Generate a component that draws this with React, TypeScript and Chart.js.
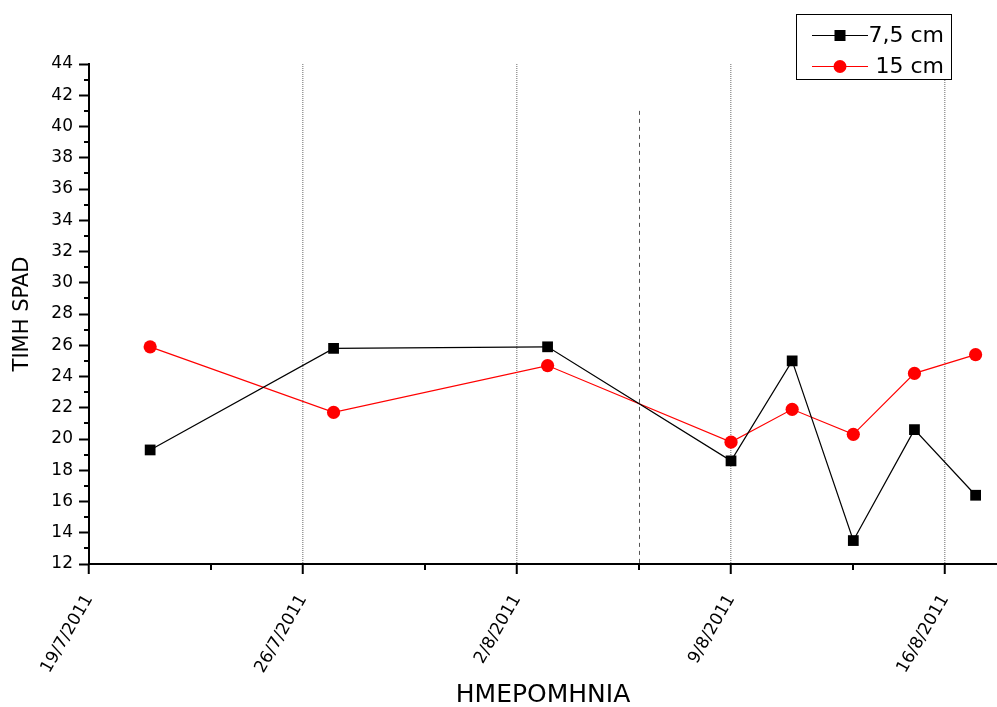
import React, { useEffect, useRef } from 'react';
import { Chart, registerables } from 'chart.js';

Chart.register(...registerables);

// Sampling dates and SPAD readings for the two depths
const DATES = ['21/7/2011', '27/7/2011', '3/8/2011', '9/8/2011', '11/8/2011', '13/8/2011', '15/8/2011', '17/8/2011'];
const SPAD_7_5 = [19.3, 25.8, 25.9, 18.6, 25.0, 13.5, 20.6, 16.4];
const SPAD_15 = [25.9, 21.7, 24.7, 19.8, 21.9, 20.3, 24.2, 25.4];

// Axis setup (x values are days counted from START_DATE)
const START_DATE = '19/7/2011';
const X_MAX_DAY = 29.7;
const MAJOR_X_DAYS = [0, 7, 14, 21, 28];
const MINOR_X_DAYS = [4, 11, 18, 25];
const Y_MIN = 12;
const Y_MAX = 44;
const Y_STEP = 2;

// Dashed reference line
const REF_DAY = 18;
const REF_TOP = 41;

const FONT = 'DejaVu Sans';
const DAY_MS = 86400000;

function parseDate(s: string): number {
  const [d, m, y] = s.split('/').map(Number);
  return Date.UTC(y, m - 1, d);
}
const dayOffset = (s: string) => (parseDate(s) - parseDate(START_DATE)) / DAY_MS;
function formatDay(v: number): string {
  const dt = new Date(parseDate(START_DATE) + v * DAY_MS);
  return `${dt.getUTCDate()}/${dt.getUTCMonth() + 1}/${dt.getUTCFullYear()}`;
}

const extrasPlugin = {
  id: 'extras',
  beforeDatasetsDraw(chart: any) {
    const { ctx, scales: { x, y } } = chart;
    const px = Math.round(x.getPixelForValue(REF_DAY)) + 0.5;
    ctx.save();
    ctx.strokeStyle = '#555';
    ctx.lineWidth = 1;
    ctx.setLineDash([4, 4]);
    ctx.beginPath();
    ctx.moveTo(px, y.getPixelForValue(REF_TOP));
    ctx.lineTo(px, y.getPixelForValue(Y_MIN));
    ctx.stroke();
    ctx.restore();
  },
  afterDraw(chart: any) {
    const { ctx, scales: { x, y } } = chart;
    ctx.save();
    // minor ticks
    ctx.strokeStyle = '#000';
    ctx.lineWidth = 2;
    ctx.beginPath();
    MINOR_X_DAYS.forEach((d) => {
      const px = Math.round(x.getPixelForValue(d));
      ctx.moveTo(px, y.bottom);
      ctx.lineTo(px, y.bottom + 6);
    });
    for (let v = Y_MIN + Y_STEP / 2; v < Y_MAX; v += Y_STEP) {
      const py = Math.round(y.getPixelForValue(v));
      ctx.moveTo(x.left - 5, py);
      ctx.lineTo(x.left, py);
    }
    ctx.stroke();

    // legend
    const bx = 796.5, by = 14.5, bw = 155, bh = 65;
    ctx.fillStyle = '#fff';
    ctx.fillRect(bx, by, bw, bh);
    ctx.strokeStyle = '#000';
    ctx.lineWidth = 1;
    ctx.strokeRect(bx, by, bw, bh);
    chart.data.datasets.forEach((ds: any, i: number) => {
      const ry = 35 + i * 31;
      ctx.strokeStyle = ds.borderColor;
      ctx.lineWidth = 1.2;
      ctx.beginPath();
      ctx.moveTo(812, ry + 0.5);
      ctx.lineTo(868, ry + 0.5);
      ctx.stroke();
      ctx.fillStyle = ds.pointBackgroundColor;
      if (ds.pointStyle === 'rect') {
        ctx.fillRect(840 - 5.5, ry - 5, 11, 11);
      } else {
        ctx.beginPath();
        ctx.arc(840, ry + 0.5, 6.5, 0, Math.PI * 2);
        ctx.fill();
      }
      ctx.fillStyle = '#000';
      ctx.font = `22px "${FONT}"`;
      ctx.textAlign = 'right';
      ctx.textBaseline = 'middle';
      ctx.fillText(ds.label, 944, ry + 1);
    });
    ctx.restore();
  },
};

export default function App() {
  const ref = useRef<HTMLCanvasElement>(null);

  useEffect(() => {
    const xs = DATES.map(dayOffset);
    const chart = new Chart(ref.current as HTMLCanvasElement, {
      type: 'line',
      data: {
        datasets: [
          {
            label: '7,5 cm',
            data: xs.map((x, i) => ({ x, y: SPAD_7_5[i] })),
            borderColor: '#000',
            backgroundColor: '#000',
            pointBackgroundColor: '#000',
            pointBorderColor: '#000',
            pointBorderWidth: 0,
            borderWidth: 1.2,
            pointStyle: 'rect',
            pointRadius: 7.6,
            tension: 0,
          },
          {
            label: '15 cm',
            data: xs.map((x, i) => ({ x, y: SPAD_15[i] })),
            borderColor: '#ff0000',
            backgroundColor: '#ff0000',
            pointBackgroundColor: '#ff0000',
            pointBorderColor: '#ff0000',
            pointBorderWidth: 0,
            borderWidth: 1.2,
            pointStyle: 'circle',
            pointRadius: 6.6,
            tension: 0,
          },
        ],
      },
      options: {
        animation: false,
        responsive: false,
        layout: { padding: { top: 64, left: 0, right: 0, bottom: 0 }, autoPadding: false },
        plugins: { legend: { display: false }, tooltip: { enabled: false } },
        scales: {
          x: {
            type: 'linear',
            min: 0,
            max: X_MAX_DAY,
            afterBuildTicks: (s: any) => {
              s.ticks = MAJOR_X_DAYS.map((v) => ({ value: v }));
            },
            afterFit: (s: any) => {
              s.height = 143;
            },
            ticks: {
              callback: (v: any) => formatDay(Number(v)),
              minRotation: 60,
              maxRotation: 60,
              autoSkip: false,
              padding: 17,
              color: '#000',
              font: { family: FONT, size: 17 },
            },
            grid: {
              drawOnChartArea: true,
              color: (c: any) => (c.tick && c.tick.value === 0 ? 'rgba(0,0,0,0)' : '#9a9a9a'),
              lineWidth: 1.5,
              tickLength: 10,
              tickWidth: 2,
              tickColor: '#000',
            },
            border: { color: '#000', width: 2, dash: [1, 1] },
            title: {
              display: true,
              text: 'ΗΜΕΡΟΜΗΝΙΑ',
              color: '#000',
              font: { family: FONT, size: 25, lineHeight: 1 },
              padding: { top: 0, bottom: -1 },
            },
          },
          y: {
            min: Y_MIN,
            max: Y_MAX,
            afterFit: (s: any) => {
              s.width = 89;
            },
            ticks: {
              stepSize: Y_STEP,
              autoSkip: false,
              padding: 6,
              color: '#000',
              font: { family: FONT, size: 17 },
            },
            grid: {
              drawOnChartArea: false,
              tickLength: 10,
              tickWidth: 2,
              tickColor: '#000',
            },
            border: { color: '#000', width: 2 },
            title: {
              display: true,
              text: 'ΤΙΜΗ SPAD',
              color: '#000',
              font: { family: FONT, size: 21, lineHeight: 1 },
              padding: { top: 12, bottom: 0 },
            },
          },
        },
      },
      plugins: [extrasPlugin],
    } as any);
    return () => chart.destroy();
  }, []);

  return (
    <div style={{ position: 'absolute', left: 0, top: 0, width: 997, height: 707, background: '#fff' }}>
      <canvas ref={ref} width={997} height={707} style={{ display: 'block' }} />
    </div>
  );
}
